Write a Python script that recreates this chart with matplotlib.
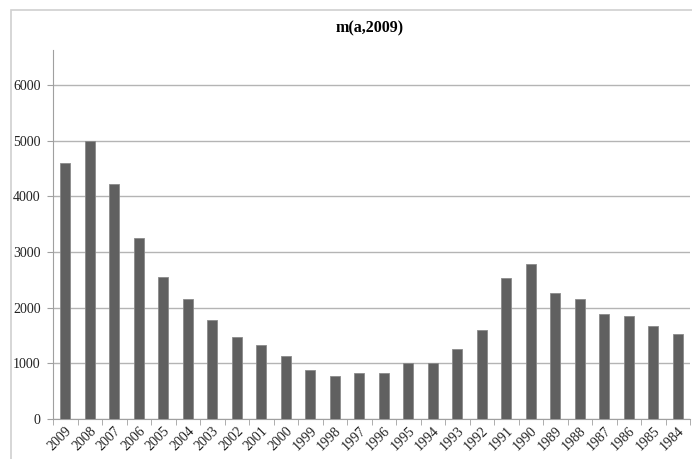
import matplotlib.pyplot as plt
import numpy as np
from matplotlib.patches import Rectangle

years = [str(y) for y in range(2009, 1983, -1)]
values = [4600, 5000, 4220, 3250, 2555, 2150, 1780, 1475, 1335, 1130,
          885, 772, 820, 832, 1000, 1000, 1257, 1592, 2531, 2789,
          2268, 2150, 1891, 1843, 1664, 1526]

plt.rcParams["font.family"] = ["Liberation Serif", "DejaVu Serif"]

fig = plt.figure(figsize=(6.92, 4.59), dpi=100)
fig.patches.append(Rectangle((11 / 692, -0.01), 1.0, 1 - 10 / 459 + 0.01,
                             transform=fig.transFigure, fill=False,
                             edgecolor="#d0d0d0", linewidth=1.2))
ax = fig.add_axes([53 / 692, 1 - 419 / 459, 637 / 692, 369 / 459])

x = np.arange(len(years))
ax.bar(x, values, width=0.4, color="#606060", edgecolor="#8a8a8a",
       linewidth=0.6, zorder=3)

ax.set_xlim(-0.5, len(years) - 0.5)
ax.set_ylim(0, 6630)
ax.set_yticks(range(0, 7000, 1000))
ax.yaxis.grid(True, color="#b4b4b4", linewidth=1.0, zorder=0)
ax.set_axisbelow(True)

ax.set_xticks(x)
ax.set_xticklabels(years, rotation=45, ha="right", va="top",
                   rotation_mode="anchor", fontsize=10, color="#222222")
ax.set_xticks(np.arange(-0.5, len(years)), minor=True)
ax.tick_params(axis="x", which="major", length=0, pad=4)
ax.tick_params(axis="x", which="minor", length=4, color="#a0a0a0")
ax.tick_params(axis="y", length=4, color="#a0a0a0", labelsize=10,
               labelcolor="#222222", pad=5)

for side in ["top", "right"]:
    ax.spines[side].set_visible(False)
for side in ["left", "bottom"]:
    ax.spines[side].set_color("#a0a0a0")

fig.text(370 / 692, 1 - 28 / 459, "m(a,2009)", ha="center", va="center",
         fontsize=11.5, fontweight="bold")

fig.savefig("out.png", dpi=100)
